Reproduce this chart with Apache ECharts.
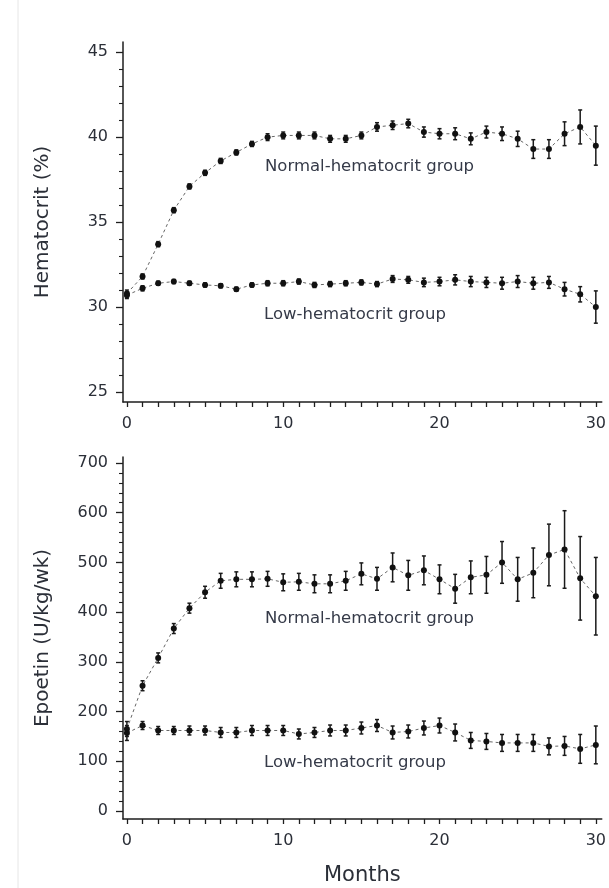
<!DOCTYPE html>
<html lang="en">

<head>
    <meta charset="UTF-8">
    <title>Hematocrit and Epoetin</title>
    <style>
        * {
            padding: 0;
            margin: 0;
        }
        body {
            background: #fff;
        }
    </style>
</head>

<body>
    <div id="chart" style="width: 609px; height: 888px;"></div>
    <script src="https://cdn.jsdelivr.net/npm/echarts@6/dist/echarts.min.js"></script>
    <script>
        let mychart = echarts.init(document.getElementById('chart'))

        const months = [0, 1, 2, 3, 4, 5, 6, 7, 8, 9, 10, 11, 12, 13, 14, 15, 16, 17, 18, 19, 20, 21, 22, 23, 24, 25, 26, 27, 28, 29, 30]
        const monthLabels = [0, 10, 20, 30]

        // hematocrit (%)
        const hctTicks = [25, 30, 35, 40, 45]
        const hctNormal = [30.8, 31.8, 33.7, 35.7, 37.1, 37.9, 38.6, 39.1, 39.6, 40.0, 40.1, 40.1, 40.1, 39.9, 39.9, 40.1, 40.6, 40.7, 40.8, 40.3, 40.2, 40.2, 39.9, 40.3, 40.2, 39.9, 39.3, 39.3, 40.2, 40.6, 39.5]
        const hctNormalErr = [0.2, 0.15, 0.15, 0.15, 0.15, 0.15, 0.15, 0.15, 0.15, 0.2, 0.2, 0.2, 0.2, 0.2, 0.2, 0.2, 0.25, 0.25, 0.25, 0.3, 0.3, 0.35, 0.35, 0.35, 0.4, 0.45, 0.55, 0.55, 0.7, 1.0, 1.15]
        const hctLow = [30.7, 31.1, 31.4, 31.5, 31.4, 31.3, 31.25, 31.05, 31.3, 31.4, 31.4, 31.5, 31.3, 31.35, 31.4, 31.45, 31.35, 31.65, 31.6, 31.45, 31.5, 31.6, 31.5, 31.45, 31.4, 31.5, 31.4, 31.45, 31.05, 30.75, 30.0]
        const hctLowErr = [0.2, 0.15, 0.12, 0.12, 0.12, 0.12, 0.12, 0.12, 0.12, 0.15, 0.15, 0.15, 0.15, 0.15, 0.15, 0.15, 0.15, 0.2, 0.2, 0.25, 0.25, 0.3, 0.3, 0.3, 0.35, 0.35, 0.35, 0.35, 0.4, 0.45, 0.95]

        // epoetin dose (U/kg/wk)
        const epoTicks = [0, 100, 200, 300, 400, 500, 600, 700]
        const epoNormal = [165, 252, 308, 367, 408, 440, 463, 466, 466, 467, 460, 461, 457, 457, 463, 477, 467, 490, 474, 484, 466, 447, 470, 475, 500, 466, 479, 515, 526, 468, 432]
        const epoNormalErr = [15, 10, 10, 10, 10, 12, 15, 15, 15, 15, 17, 17, 18, 18, 19, 22, 23, 29, 30, 29, 29, 29, 33, 37, 42, 44, 50, 62, 78, 84, 78]
        const epoLow = [157, 172, 162, 162, 162, 162, 158, 158, 162, 162, 162, 155, 158, 162, 162, 167, 172, 158, 160, 167, 172, 158, 142, 140, 137, 137, 137, 130, 131, 125, 133]
        const epoLowErr = [15, 8, 8, 8, 9, 9, 10, 10, 10, 10, 10, 10, 10, 11, 11, 12, 12, 13, 13, 14, 15, 17, 16, 16, 17, 17, 17, 17, 19, 29, 38]

        const textColor = '#2b2f38'
        const axisColor = '#1e1e1e'
        const fontFamily = '"DejaVu Sans", sans-serif'

        // 主刻度之间分 5 格的小刻度
        function minorTicks(ticks) {
            const out = []
            for (let i = 0; i < ticks.length - 1; i++) {
                const step = (ticks[i + 1] - ticks[i]) / 5
                for (let k = 1; k < 5; k++) out.push(ticks[i] + step * k)
            }
            return out
        }

        function pairs(vals) {
            return months.map((m, i) => [m, vals[i]])
        }

        function errData(vals, errs) {
            return months.map((m, i) => [m, vals[i] - errs[i], vals[i] + errs[i]])
        }

        // 误差线
        function errorBar(params, api) {
            const x = api.value(0)
            const lo = api.coord([x, api.value(1)])
            const hi = api.coord([x, api.value(2)])
            const cap = 2
            const style = { stroke: '#1a1a1a', lineWidth: 1.5 }
            return {
                type: 'group',
                children: [
                    { type: 'line', shape: { x1: lo[0], y1: lo[1], x2: hi[0], y2: hi[1] }, style: style },
                    { type: 'line', shape: { x1: lo[0] - cap, y1: lo[1], x2: lo[0] + cap, y2: lo[1] }, style: style },
                    { type: 'line', shape: { x1: hi[0] - cap, y1: hi[1], x2: hi[0] + cap, y2: hi[1] }, style: style }
                ]
            }
        }

        function lineSeries(xi, yi, vals) {
            return {
                type: 'line',
                xAxisIndex: xi,
                yAxisIndex: yi,
                data: pairs(vals),
                symbol: 'circle',
                symbolSize: 6,
                itemStyle: { color: '#111' },
                lineStyle: { color: '#666', width: 1, type: [3, 3] },
                z: 3
            }
        }

        function errSeries(xi, yi, vals, errs) {
            return {
                type: 'custom',
                xAxisIndex: xi,
                yAxisIndex: yi,
                renderItem: errorBar,
                data: errData(vals, errs),
                encode: { x: 0, y: [1, 2] },
                z: 2
            }
        }

        function xAxis(gridIndex, name) {
            return {
                type: 'value',
                gridIndex: gridIndex,
                min: -0.25,
                max: 30.38,
                name: name,
                nameLocation: 'middle',
                nameGap: 46,
                nameTextStyle: { color: textColor, fontSize: 21, fontFamily: fontFamily },
                axisLine: { onZero: false, lineStyle: { color: axisColor, width: 1.5 } },
                axisTick: { length: 5, customValues: months, lineStyle: { color: axisColor, width: 1.3 } },
                axisLabel: {
                    color: textColor,
                    fontSize: 16,
                    fontFamily: fontFamily,
                    margin: 14,
                    customValues: monthLabels
                },
                splitLine: { show: false }
            }
        }

        function yAxis(gridIndex, min, max, ticks, name) {
            return {
                type: 'value',
                gridIndex: gridIndex,
                position: 'left',
                min: min,
                max: max,
                name: name,
                nameLocation: 'middle',
                nameGap: 70,
                nameTextStyle: { color: textColor, fontSize: 20, fontFamily: fontFamily },
                axisLine: { show: true, onZero: false, lineStyle: { color: axisColor, width: 1.5 } },
                axisTick: { show: true, length: 7, customValues: ticks, lineStyle: { color: axisColor, width: 1.3 } },
                axisLabel: { color: textColor, fontSize: 16, fontFamily: fontFamily, margin: 15, customValues: ticks },
                splitLine: { show: false }
            }
        }

        // 只画小刻度的辅助轴
        function yMinorAxis(gridIndex, min, max, ticks) {
            return {
                type: 'value',
                gridIndex: gridIndex,
                position: 'left',
                min: min,
                max: max,
                axisLine: { show: false, onZero: false },
                axisTick: { show: true, length: 4, customValues: minorTicks(ticks), lineStyle: { color: axisColor, width: 1.1 } },
                axisLabel: { show: false },
                splitLine: { show: false }
            }
        }

        function groupLabel(text, x, y) {
            return {
                type: 'text',
                x: x,
                y: y,
                style: {
                    text: text,
                    fill: '#353a48',
                    font: '16.5px ' + fontFamily,
                    verticalAlign: 'middle'
                }
            }
        }

        let options = {
            animation: false,
            backgroundColor: '#fff',
            grid: [
                { left: 123, right: 6, top: 42, height: 360 },
                { left: 123, right: 6, top: 457, height: 362 }
            ],
            xAxis: [xAxis(0, ''), xAxis(1, 'Months')],
            yAxis: [
                yAxis(0, 24.41, 45.6, hctTicks, 'Hematocrit (%)'),
                yMinorAxis(0, 24.41, 45.6, hctTicks),
                yAxis(1, -16, 712, epoTicks, 'Epoetin (U/kg/wk)'),
                yMinorAxis(1, -16, 712, epoTicks)
            ],
            graphic: [
                groupLabel('Normal-hematocrit group', 265, 167),
                groupLabel('Low-hematocrit group', 264, 315),
                groupLabel('Normal-hematocrit group', 265, 619),
                groupLabel('Low-hematocrit group', 264, 763),
                {
                    type: 'line',
                    shape: { x1: 18, y1: 0, x2: 18, y2: 888 },
                    style: { stroke: '#e6e6e6', lineWidth: 1 }
                }
            ],
            series: [
                errSeries(0, 0, hctNormal, hctNormalErr),
                errSeries(0, 0, hctLow, hctLowErr),
                lineSeries(0, 0, hctNormal),
                lineSeries(0, 0, hctLow),
                errSeries(1, 2, epoNormal, epoNormalErr),
                errSeries(1, 2, epoLow, epoLowErr),
                lineSeries(1, 2, epoNormal),
                lineSeries(1, 2, epoLow)
            ]
        }

        mychart.setOption(options);
    </script>
</body>

</html>
